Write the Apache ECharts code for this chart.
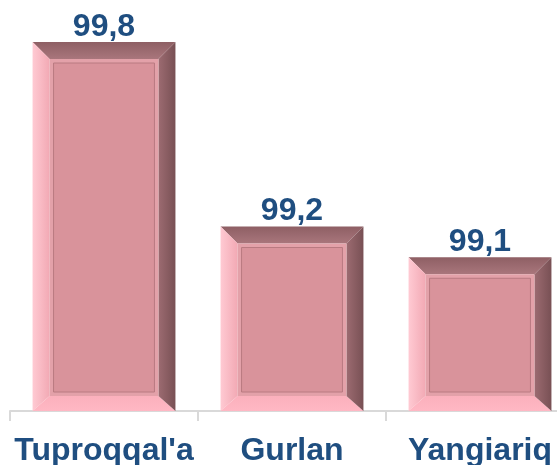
<!DOCTYPE html>
<html>
<head>
<meta charset="utf-8">
<script src="https://cdn.jsdelivr.net/npm/echarts@6/dist/echarts.min.js"></script>
<style>
  html, body { margin: 0; padding: 0; background: #fff; }
  #chart { width: 557px; height: 465px; }
</style>
</head>
<body>
<div id="chart"></div>
<script>
'use strict';
/* bevel bar chart */

var categories = ['Tuproqqal\'a', 'Gurlan', 'Yangiariq'];
var values = [99.8, 99.2, 99.1];
var axisMin = 98.6;
var axisMax = 99.8;

var textColor = '#1f4e80';
var fontName = '"Liberation Sans", Arial, sans-serif';

function fmt(v) {
  return String(v).replace('.', ',');
}

function grad(x0, y0, x1, y1, c0, c1) {
  return new echarts.graphic.LinearGradient(x0, y0, x1, y1, [
    { offset: 0, color: c0 },
    { offset: 1, color: c1 }
  ]);
}

// draws one framed bar with bevelled edges
function renderBevelBar(params, api) {
  var idx = api.value(0);
  var val = api.value(1);
  var top = api.coord([idx, val]);
  var base = api.coord([idx, axisMin]);
  var w = api.size([1, 0])[0] * 0.76;
  var x0 = top[0] - w / 2;
  var x1 = top[0] + w / 2;
  var y0 = top[1];
  var y1 = base[1];
  var b = 17;   // bevel
  var bb = 15;  // bottom bevel
  var f = 4;    // inner frame

  var ix0 = x0 + b, ix1 = x1 - b, iy0 = y0 + b, iy1 = y1 - bb;

  var children = [
    // top bevel
    { type: 'polygon', shape: { points: [[x0, y0], [x1, y0], [ix1, iy0], [ix0, iy0]] },
      style: { fill: grad(0, 0, 0, 1, '#8e5f64', '#a9767c') } },
    // left bevel
    { type: 'polygon', shape: { points: [[x0, y0], [ix0, iy0], [ix0, iy1], [x0, y1]] },
      style: { fill: grad(0, 0, 1, 0, '#ffcad3', '#f2a9b4') } },
    // bottom bevel
    { type: 'polygon', shape: { points: [[x0, y1], [ix0, iy1], [ix1, iy1], [x1, y1]] },
      style: { fill: grad(0, 0, 0, 1, '#fbb0bc', '#ffb8c4') } },
    // right bevel
    { type: 'polygon', shape: { points: [[x1, y0], [x1, y1], [ix1, iy1], [ix1, iy0]] },
      style: { fill: grad(0, 0, 1, 0, '#9c6b71', '#785054') } },
    // frame band
    { type: 'rect', shape: { x: ix0, y: iy0, width: ix1 - ix0, height: iy1 - iy0 },
      style: { fill: '#e3a1a9' } },
    // face
    { type: 'rect', shape: { x: ix0 + f, y: iy0 + f, width: ix1 - ix0 - 2 * f, height: iy1 - iy0 - 2 * f },
      style: { fill: '#d9939b', stroke: '#b97a81', lineWidth: 1 } },
    // value label
    { type: 'text',
      style: {
        text: fmt(values[idx]),
        x: top[0],
        y: y0 + 1,
        align: 'center',
        verticalAlign: 'bottom',
        fontSize: 32,
        fontWeight: 'bold',
        fontFamily: fontName,
        fill: textColor
      } }
  ];
  return { type: 'group', children: children };
}

var chart = echarts.init(document.getElementById('chart'));
var option = {
  animation: false,
  grid: { left: 10, right: -17, top: 42, bottom: 54, containLabel: false, outerBoundsMode: 'none' },
  xAxis: {
    type: 'category',
    data: categories,
    axisLine: { lineStyle: { color: '#d9d9d9', width: 2 } },
    axisTick: { show: true, interval: 0, length: 10, lineStyle: { color: '#d9d9d9', width: 2 } },
    axisLabel: {
      interval: 0,
      hideOverlap: false,
      margin: 24,
      fontSize: 32,
      fontWeight: 'bold',
      fontFamily: fontName,
      color: textColor
    }
  },
  yAxis: {
    type: 'value',
    min: axisMin,
    max: axisMax,
    show: false,
    splitLine: { show: false }
  },
  series: [{
    type: 'custom',
    renderItem: renderBevelBar,
    data: values.map(function(v, i) { return [i, v]; }),
    clip: false
  }]
};
chart.setOption(option);
</script>
</body>
</html>
